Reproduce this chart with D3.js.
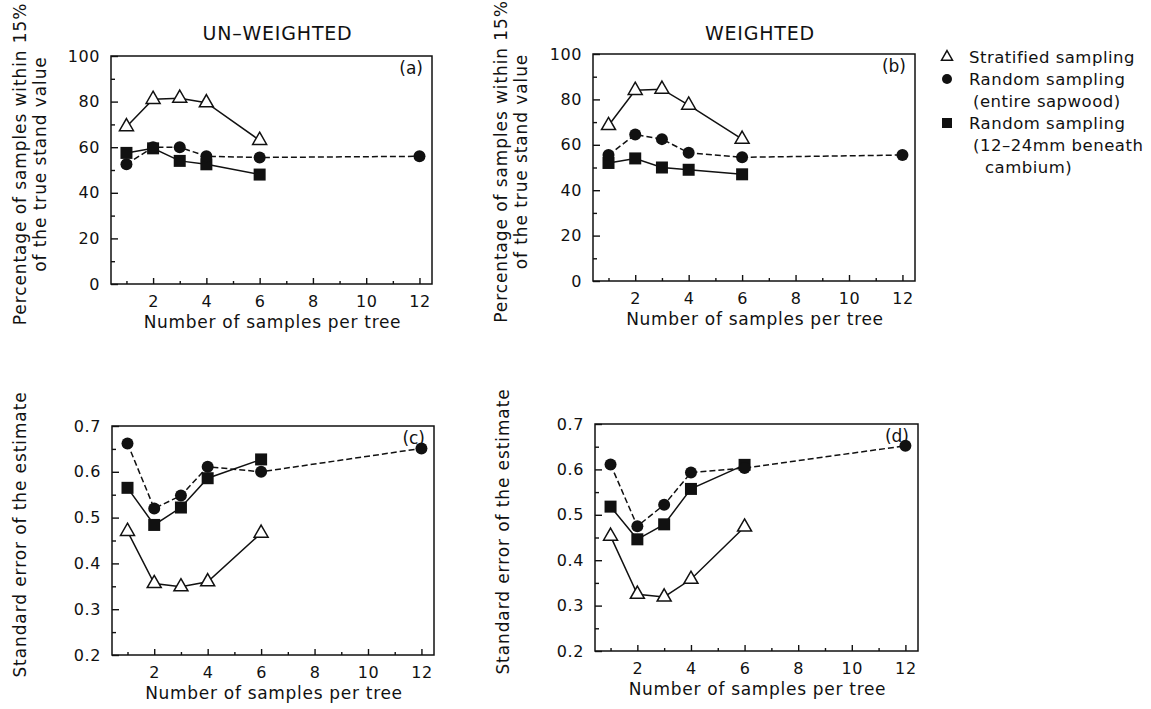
<!DOCTYPE html>
<html>
<head>
<meta charset="utf-8">
<script src="https://cdn.jsdelivr.net/npm/d3@7"></script>
<style>
  body { margin: 0; background: #fff; }
  svg { display: block; }
  text { font-family: "DejaVu Sans", sans-serif; fill: #111; }
</style>
</head>
<body>
<div id="chart"></div>
<script>
// sample counts per tree
const xStrat = [1, 2, 3, 4, 6];
const xEntire = [1, 2, 3, 4, 6, 12];
const xBeneath = [1, 2, 3, 4, 6];

// (a) un-weighted, % within 15%
const pctStratUnw = [69, 81, 81.5, 79.5, 63];
const pctEntireUnw = [52.5, 60, 60, 56, 55.5, 56];
const pctBeneathUnw = [57.5, 59.5, 54, 52.5, 48];
// (b) weighted, % within 15%
const pctStratW = [68.5, 84, 84.5, 77.5, 62.5];
const pctEntireW = [55.5, 64.5, 62.5, 56.5, 54.5, 55.5];
const pctBeneathW = [52, 54, 50, 49, 47];
// (c) un-weighted, standard error
const seStratUnw = [0.47, 0.356, 0.349, 0.36, 0.466];
const seEntireUnw = [0.662, 0.52, 0.548, 0.611, 0.6, 0.651];
const seBeneathUnw = [0.565, 0.484, 0.522, 0.586, 0.627];
// (d) weighted, standard error
const seStratW = [0.453, 0.325, 0.319, 0.358, 0.473];
const seEntireW = [0.611, 0.475, 0.522, 0.593, 0.603, 0.652];
const seBeneathW = [0.518, 0.446, 0.479, 0.557, 0.61];

const xTicks = [2, 4, 6, 8, 10, 12];
const xMinor = [1, 3, 5, 7, 9, 11];
const pctTicks = [0, 20, 40, 60, 80, 100];
const pctMinor = [10, 30, 50, 70, 90];
const seTicks = [0.2, 0.3, 0.4, 0.5, 0.6, 0.7];
const seMinor = [0.25, 0.35, 0.45, 0.55, 0.65];

const legendLabels = [
    ['Stratified sampling'],
    ['Random sampling', '(entire sapwood)'],
    ['Random sampling', '(12\u201324mm beneath', 'cambium)'],
];

const width = 1151;
const height = 709;

const svg = d3.select('#chart').append('svg')
    .attr('width', width)
    .attr('height', height);

svg.append('rect').attr('width', width).attr('height', height).attr('fill', '#fff');

const panels = [
    { box: [111, 56, 432, 284], tag: '(a)', kind: 'pct', title: 'UN\u2013WEIGHTED', yl: 26,
      strat: pctStratUnw, entire: pctEntireUnw, beneath: pctBeneathUnw },
    { box: [593, 54, 915, 281], tag: '(b)', kind: 'pct', title: 'WEIGHTED', yl: 507,
      strat: pctStratW, entire: pctEntireW, beneath: pctBeneathW },
    { box: [112, 426, 434, 655], tag: '(c)', kind: 'se', yl: 26,
      strat: seStratUnw, entire: seEntireUnw, beneath: seBeneathUnw },
    { box: [595, 424, 918, 651], tag: '(d)', kind: 'se', yl: 509,
      strat: seStratW, entire: seEntireW, beneath: seBeneathW },
];

function drawPanel(p) {
    const [x0, y0, x1, y1] = p.box;
    const isPct = p.kind === 'pct';

    const x = d3.scaleLinear().domain([0.42, 12.47]).range([x0, x1]);
    const y = d3.scaleLinear()
        .domain(isPct ? [0, 100] : [0.2, 0.7])
        .range([y1, y0]);

    const g = svg.append('g');

    // frame
    g.append('rect')
        .attr('x', x0).attr('y', y0)
        .attr('width', x1 - x0).attr('height', y1 - y0)
        .attr('fill', 'none').attr('stroke', '#111').attr('stroke-width', 1.5);

    // x axis (ticks point inward)
    const xa = g.append('g').attr('transform', `translate(0,${y1})`)
        .call(d3.axisBottom(x).tickValues(xTicks).tickSize(-6).tickPadding(11.5));
    const xm = g.append('g').attr('transform', `translate(0,${y1})`)
        .call(d3.axisBottom(x).tickValues(xMinor).tickSize(-3).tickFormat(''));

    // y axis
    const ya = g.append('g').attr('transform', `translate(${x0},0)`)
        .call(d3.axisLeft(y).tickValues(isPct ? pctTicks : seTicks).tickSize(-7).tickPadding(11)
            .tickFormat(isPct ? d3.format('d') : d3.format('.1f')));
    const ym = g.append('g').attr('transform', `translate(${x0},0)`)
        .call(d3.axisLeft(y).tickValues(isPct ? pctMinor : seMinor).tickSize(-4).tickFormat(''));

    [xa, xm, ya, ym].forEach(a => {
        a.select('.domain').remove();
        a.selectAll('line').attr('stroke', '#111').attr('stroke-width', 1.4);
        a.selectAll('text').attr('font-family', '"DejaVu Sans", sans-serif')
            .attr('font-size', 16).attr('letter-spacing', 0.6).attr('fill', '#111');
    });

    // series lines
    const line = (xs) => d3.line().x((d, i) => x(xs[i])).y(d => y(d));

    g.append('path').datum(p.entire).attr('d', line(xEntire))
        .attr('fill', 'none').attr('stroke', '#111').attr('stroke-width', 1.5)
        .attr('stroke-dasharray', '6,3');
    g.append('path').datum(p.beneath).attr('d', line(xBeneath))
        .attr('fill', 'none').attr('stroke', '#111').attr('stroke-width', 1.5);
    g.append('path').datum(p.strat).attr('d', line(xStrat))
        .attr('fill', 'none').attr('stroke', '#111').attr('stroke-width', 1.5);

    // markers
    g.selectAll('.sq').data(p.beneath).join('rect')
        .attr('x', (d, i) => x(xBeneath[i]) - 6)
        .attr('y', d => y(d) - 6)
        .attr('width', 12).attr('height', 12).attr('fill', '#111');
    g.selectAll('.ci').data(p.entire).join('circle')
        .attr('cx', (d, i) => x(xEntire[i]))
        .attr('cy', d => y(d))
        .attr('r', 6).attr('fill', '#111');
    g.selectAll('.tri').data(p.strat).join('path')
        .attr('d', triangle(14))
        .attr('transform', (d, i) => `translate(${x(xStrat[i])},${y(d)})`)
        .attr('fill', '#fff').attr('stroke', '#111').attr('stroke-width', 1.5);

    // panel tag
    g.append('text').attr('x', x1 - 9).attr('y', y0 + 18)
        .attr('text-anchor', 'end').attr('font-size', 17).text(p.tag);

    // x label
    g.append('text').attr('x', (x0 + x1) / 2 + 1).attr('y', y1 + 44)
        .attr('text-anchor', 'middle').attr('font-size', 17).attr('letter-spacing', 0.7)
        .text('Number of samples per tree');

    // y label
    const cy = (y0 + y1) / 2 - 6;
    if (isPct) {
        g.append('text').attr('transform', `translate(${p.yl},${cy}) rotate(-90)`)
            .attr('text-anchor', 'middle').attr('font-size', 17).attr('letter-spacing', 0.9)
            .text('Percentage of samples within 15%');
        g.append('text').attr('transform', `translate(${p.yl + 20},${cy}) rotate(-90)`)
            .attr('text-anchor', 'middle').attr('font-size', 17).attr('letter-spacing', 0.9)
            .text('of the true stand value');
    } else {
        g.append('text').attr('transform', `translate(${p.yl},${cy}) rotate(-90)`)
            .attr('text-anchor', 'middle').attr('font-size', 17).attr('letter-spacing', 0.9)
            .text('Standard error of the estimate');
    }

    if (p.title) {
        svg.append('text').attr('x', (x0 + x1) / 2 + 6).attr('y', 40)
            .attr('text-anchor', 'middle').attr('font-size', 19).attr('letter-spacing', 0.8)
            .attr('fill', '#222')
            .text(p.title);
    }
}

function triangle(s) {
    const h = s * 0.87;
    return `M0,${-h * 2 / 3}L${s / 2},${h / 3}L${-s / 2},${h / 3}Z`;
}

panels.forEach(drawPanel);

// legend
const legend = svg.append('g').attr('transform', 'translate(947,0)');
const lineH = 22;
let row = 0;
legendLabels.forEach((lines, k) => {
    const yBase = 63 + row * lineH;
    const cy = yBase - 6;
    if (k === 0) {
        legend.append('path').attr('d', triangle(11)).attr('transform', `translate(0,${cy})`)
            .attr('fill', '#fff').attr('stroke', '#111').attr('stroke-width', 1.5);
    } else if (k === 1) {
        legend.append('circle').attr('cx', 0).attr('cy', cy).attr('r', 5).attr('fill', '#111');
    } else {
        legend.append('rect').attr('x', -5).attr('y', cy - 5).attr('width', 10).attr('height', 10).attr('fill', '#111');
    }
    lines.forEach((t, j) => {
        const indent = j === 0 ? 22 : (j === 1 ? 26 : 38);
        legend.append('text').attr('x', indent).attr('y', yBase + j * lineH)
            .attr('font-size', 16.5).attr('letter-spacing', 0.5).text(t);
    });
    row += lines.length;
});
</script>
</body>
</html>
